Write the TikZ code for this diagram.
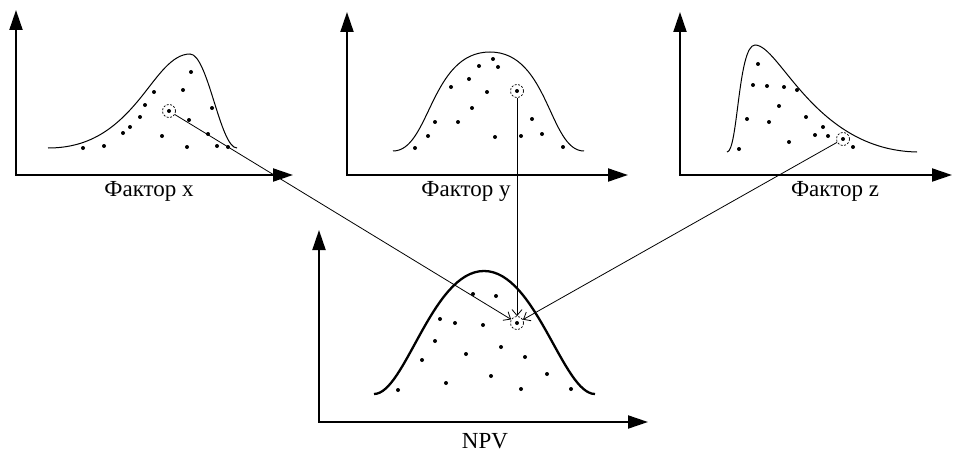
\documentclass[tikz,border=0pt]{standalone}
\usepackage{fontspec}
\setmainfont{Liberation Serif}
\usetikzlibrary{arrows.meta}

\begin{document}
\begin{tikzpicture}[
	x=1pt, y=-1pt,
	font=\fontsize{23}{27}\selectfont,
	axes/.style={
		line width=2pt,
		{Triangle[length=20pt, width=13pt]}-{Triangle[length=20pt, width=13pt]},
	},
	curve/.style={line width=1pt},
	npvcurve/.style={line width=2.3pt},
	hl/.style={
		circle,
		draw,
		dash pattern=on 2pt off 1.5pt,
		line width=0.7pt,
		minimum size=13pt,
		inner sep=0pt,
	},
	link/.style={line width=0.8pt, -{Straight Barb[length=6pt, width=10pt]}},
	lbl/.style={anchor=base, inner sep=0pt},
]
\useasboundingbox (0,0) rectangle (953,452);

% osi
\foreach \ox/\oy/\top/\right in {16/175/10/293, 347/175/12/628, 680/175/12/952, 319/422/230/648}
	\draw[axes] (\ox,\top) |- (\right,\oy);

% krivye
\draw[curve] (48,148) .. controls (92,148) and (118,126) .. (142,96)
	.. controls (158,76) and (172,54) .. (190,54)
	.. controls (208,54) and (220,148) .. (237,148);
\draw[curve] (393,151) .. controls (430,151) and (430,52) .. (490,52)
	.. controls (549,52) and (549,151) .. (584,151);
\draw[curve] (727,152) .. controls (738,152) and (738,45) .. (755,45)
	.. controls (780,45) and (815,150) .. (917,152);
\draw[npvcurve] (374,394) .. controls (405,394) and (432,271) .. (484,271)
	.. controls (536,271) and (563,394) .. (595,394);

% tochki
\foreach \a/\b in {83/148, 104/146, 123/133, 130/127, 140/117, 145/105, 154/92, 162/136,
	183/90, 191/72, 189/120, 187/147, 208/134, 212/108, 217/146, 228/147,
	415/148, 428/136, 435/122, 451/87, 458/122, 469/79, 472/108, 479/66,
	487/92, 493/59, 498/67, 495/137, 521/136, 532/119, 542/134, 563/147,
	739/149, 747/119, 753/85, 758/64, 767/86, 769/122, 779/106, 784/87,
	789/142, 797/90, 806/117, 815/135, 823/127, 828/136, 853/147,
	398/390, 422/360, 435/341, 440/319, 446/383, 455/323, 466/354, 473/294,
	483/325, 491/376, 496/296, 501/347, 521/389, 525/357, 547/374, 571/389}
	\fill (\a,\b) circle[radius=2pt];

% vybrannye tochki
\node[hl] (hx) at (169,111) {};
\node[hl] (hy) at (517,91) {};
\node[hl] (hz) at (843,139) {};
\node[hl] (hn) at (517,323) {};
\foreach \n in {hx, hy, hz, hn}
	\fill (\n) circle[radius=2pt];

\draw[link] (hx) -- (hn);
\draw[link] (hy) -- (hn);
\draw[link] (hz) -- (hn);

% podpisi
\node[lbl] (lblx) at (149,196) {Фактор x};
\node[lbl] (lbly) at (466,196) {Фактор y};
\node[lbl] (lblz) at (835,196) {Фактор z};
\node[lbl] (lblnpv) at (485,448) {NPV};

\end{tikzpicture}
\end{document}
